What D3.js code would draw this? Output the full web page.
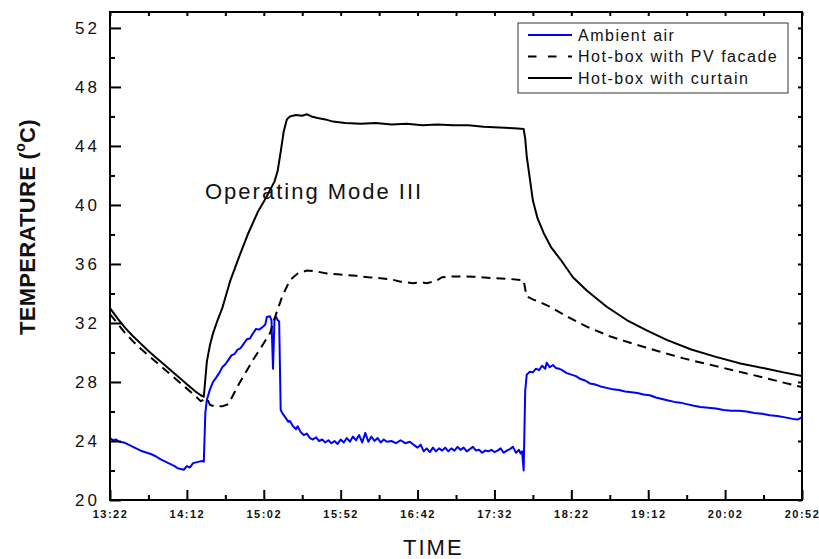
<!DOCTYPE html>
<html>
<head>
<meta charset="utf-8">
<script src="https://d3js.org/d3.v7.min.js"></script>
<style>
  body { margin: 0; background: #fff; }
  text { font-family: Arial, "Liberation Sans", sans-serif; fill: #111; }
</style>
</head>
<body>
<svg id="chart"></svg>
<script>
// ---- data ----
const xTickLabels = ["13:22", "14:12", "15:02", "15:52", "16:42", "17:32", "18:22", "19:12", "20:02", "20:52"];
const yTickValues = [20, 24, 28, 32, 36, 40, 44, 48, 52];
const seriesNames = ["Ambient air", "Hot-box with PV facade", "Hot-box with curtain"];

const ambient = [
  ["13:22",24.2],["13:24",24.05],["13:26",24.1],["13:28",23.95],["13:31",23.9],["13:34",23.75],["13:37",23.6],
  ["13:40",23.45],["13:43",23.3],["13:46",23.2],["13:49",23.1],["13:52",22.95],["13:55",22.75],["13:58",22.6],
  ["14:01",22.45],["14:04",22.3],["14:06",22.15],["14:08",22.1],["14:10",22.05],["14:12",22.3],["14:14",22.2],
  ["14:16",22.5],["14:18",22.55],["14:20",22.6],["14:22",22.65],["14:23",22.6],
  ["14:24",25.9],["14:25",26.8],["14:27",27.5],["14:29",28.0],["14:31",28.3],["14:33",28.6],["14:35",29.0],
  ["14:37",29.2],["14:39",29.5],["14:41",29.8],["14:43",29.9],["14:45",30.2],["14:47",30.3],["14:49",30.6],
  ["14:51",30.9],["14:53",30.95],["14:55",31.3],["14:57",31.6],["14:59",31.55],["15:01",31.7],["15:03",31.9],
  ["15:04",32.4],["15:06",32.45],["15:07",32.2],["15:08",28.9],["15:09",32.3],["15:10",32.4],["15:11",32.2],
  ["15:12",32.1],["15:13",26.1],["15:14",25.9],["15:16",25.6],["15:18",25.3],["15:19",25.35],["15:21",25.0],
  ["15:23",24.8],["15:24",25.0],["15:26",24.6],["15:28",24.4],["15:30",24.5],["15:32",24.2],["15:34",24.1],
  ["15:36",24.25],["15:38",24.0],["15:40",24.1],["15:42",23.9],["15:44",24.05],["15:46",23.85],["15:48",24.0],
  ["15:50",23.8],["15:52",24.1],["15:54",23.9],["15:56",24.2],["15:58",23.95],["16:00",24.3],["16:02",24.05],
  ["16:04",24.4],["16:06",23.9],["16:08",24.55],["16:10",23.95],["16:12",24.3],["16:14",24.0],["16:16",24.2],
  ["16:18",23.9],["16:20",24.1],["16:22",23.95],["16:25",24.0],["16:28",23.85],["16:31",24.05],["16:34",23.85],
  ["16:37",23.95],["16:40",23.7],["16:42",23.55],["16:44",23.75],["16:46",23.3],["16:48",23.5],["16:50",23.25],
  ["16:52",23.55],["16:54",23.3],["16:56",23.5],["16:58",23.35],["17:00",23.55],["17:02",23.3],["17:04",23.5],
  ["17:06",23.35],["17:08",23.6],["17:10",23.4],["17:12",23.55],["17:14",23.3],["17:16",23.45],["17:18",23.6],
  ["17:20",23.35],["17:22",23.4],["17:24",23.2],["17:26",23.35],["17:28",23.3],["17:30",23.4],["17:32",23.25],
  ["17:34",23.35],["17:36",23.5],["17:38",23.2],["17:40",23.35],["17:42",23.45],["17:44",23.6],["17:46",23.2],
  ["17:48",23.4],["17:49",23.15],["17:50",23.3],["17:51",22.0],["17:52",27.4],["17:53",28.5],["17:55",28.7],
  ["17:57",28.65],["17:59",28.9],["18:01",28.8],["18:03",29.1],["18:05",28.9],["18:06",29.3],["18:08",29.0],
  ["18:10",29.15],["18:12",28.95],["18:14",28.9],["18:16",28.8],["18:19",28.6],["18:22",28.5],["18:25",28.4],
  ["18:28",28.2],["18:31",28.1],["18:34",27.9],["18:37",27.85],["18:41",27.7],["18:45",27.6],["18:49",27.5],
  ["18:53",27.45],["18:57",27.35],["19:01",27.3],["19:05",27.25],["19:09",27.15],["19:13",27.1],["19:17",26.95],
  ["19:21",26.85],["19:25",26.75],["19:29",26.65],["19:33",26.6],["19:37",26.5],["19:41",26.4],["19:46",26.3],
  ["19:51",26.25],["19:56",26.2],["20:01",26.1],["20:06",26.05],["20:11",26.05],["20:16",26.0],["20:21",25.9],
  ["20:26",25.85],["20:31",25.75],["20:36",25.7],["20:41",25.6],["20:46",25.5],["20:49",25.45],["20:51",25.55],
  ["20:52",25.65]
];

const pvFacade = [
  ["13:22",32.6],["13:27",31.95],["13:32",31.3],["13:37",30.75],["13:42",30.25],["13:47",29.8],["13:52",29.35],
  ["13:57",28.9],["14:02",28.45],["14:07",28.0],["14:12",27.55],["14:17",27.1],["14:21",26.7],["14:23",26.8],
  ["14:25",26.9],["14:27",26.45],["14:30",26.35],["14:35",26.35],["14:39",26.5],["14:42",27.1],["14:46",27.9],
  ["14:50",28.6],["14:55",29.5],["15:00",30.3],["15:06",31.3],["15:10",32.6],["15:14",33.8],["15:19",34.9],
  ["15:24",35.35],["15:30",35.55],["15:36",35.5],["15:43",35.35],["15:50",35.3],["16:02",35.2],["16:10",35.1],
  ["16:18",35.03],["16:25",34.95],["16:31",34.8],["16:39",34.7],["16:45",34.75],["16:48",34.7],["16:54",34.85],
  ["16:58",35.1],["17:05",35.15],["17:18",35.14],["17:30",35.05],["17:40",35.0],["17:51",34.9],["17:52",34.3],
  ["17:53",33.8],["17:57",33.6],["18:02",33.4],["18:08",33.1],["18:20",32.4],["18:32",31.75],["18:47",31.1],
  ["19:02",30.6],["19:18",30.1],["19:35",29.6],["19:51",29.2],["20:07",28.8],["20:27",28.3],["20:46",27.8],
  ["20:52",27.65]
];

const curtain = [
  ["13:22",33.0],["13:27",32.3],["13:32",31.65],["13:37",31.1],["13:42",30.6],["13:47",30.1],["13:52",29.65],
  ["13:57",29.2],["14:02",28.75],["14:07",28.3],["14:12",27.85],["14:17",27.4],["14:21",27.1],["14:23",27.0],
  ["14:24",28.2],["14:25",29.4],["14:27",30.5],["14:29",31.3],["14:32",32.2],["14:35",33.0],["14:40",34.8],
  ["14:46",36.5],["14:52",38.1],["14:58",39.5],["15:03",40.4],["15:06",41.0],["15:09",41.6],["15:11",42.3],
  ["15:13",43.6],["15:15",45.0],["15:17",45.8],["15:19",46.0],["15:23",46.1],["15:27",46.05],["15:30",46.15],
  ["15:33",46.0],["15:37",45.9],["15:42",45.8],["15:47",45.65],["15:55",45.55],["16:05",45.5],["16:15",45.55],
  ["16:25",45.45],["16:35",45.5],["16:45",45.4],["16:55",45.45],["17:05",45.4],["17:15",45.4],["17:25",45.3],
  ["17:35",45.25],["17:45",45.2],["17:51",45.15],["17:52",44.5],["17:53",43.3],["17:55",41.8],["17:57",40.3],
  ["18:00",39.1],["18:04",38.1],["18:09",37.1],["18:15",36.3],["18:23",35.1],["18:32",34.2],["18:45",33.1],
  ["18:58",32.2],["19:11",31.5],["19:24",30.85],["19:40",30.2],["19:56",29.7],["20:12",29.25],["20:29",28.9],
  ["20:40",28.65],["20:52",28.4]
];

// ---- layout ----
const W = 819, H = 559;
const plotLeft = 110, plotRight = 802, plotTop = 12, plotBottom = 500;
const parse = d3.timeParse("%H:%M");

const svg = d3.select("#chart").attr("width", W).attr("height", H);

const x = d3.scaleTime()
    .domain([parse(xTickLabels[0]), parse(xTickLabels[xTickLabels.length - 1])])
    .range([plotLeft, plotRight]);
const y = d3.scaleLinear().domain([20, 53.08]).range([plotBottom, plotTop]);

const majorX = xTickLabels.map(parse);
const minorX = d3.pairs(majorX).map(([a, b]) => new Date((+a + +b) / 2));
const minorY = yTickValues.slice(0, -1).map(v => v + 2);

// clip for data lines
svg.append("clipPath").attr("id", "plot")
  .append("rect").attr("x", plotLeft).attr("y", plotTop)
    .attr("width", plotRight - plotLeft).attr("height", plotBottom - plotTop);

const line = d3.line().x(d => x(parse(d[0]))).y(d => y(d[1]));

const lines = svg.append("g").attr("clip-path", "url(#plot)").attr("fill", "none");
lines.append("path").datum(ambient).attr("d", line)
    .attr("stroke", "#0000ff").attr("stroke-width", 2).attr("stroke-linejoin", "round");
lines.append("path").datum(pvFacade).attr("d", line)
    .attr("stroke", "#000").attr("stroke-width", 2).attr("stroke-dasharray", "9,6");
lines.append("path").datum(curtain).attr("d", line)
    .attr("stroke", "#000").attr("stroke-width", 2).attr("stroke-linejoin", "round");

// ---- axes ----
function styleTicks(g) {
  g.select(".domain").remove();
  g.selectAll(".tick line").attr("stroke", "#000").attr("stroke-width", 2);
}

svg.append("g").attr("transform", `translate(0,${plotBottom})`)
  .call(d3.axisBottom(x).tickValues(majorX).tickSize(-10).tickPadding(10)
    .tickFormat(d3.timeFormat("%H:%M")))
  .call(styleTicks)
  .selectAll("text")
    .attr("font-size", 11).attr("font-weight", "bold").attr("letter-spacing", 1.5)
    .attr("font-family", "Arial, 'Liberation Sans', sans-serif").attr("fill", "#111");

svg.append("g").attr("transform", `translate(0,${plotBottom})`)
  .call(d3.axisBottom(x).tickValues(minorX).tickSize(-5).tickFormat(""))
  .call(styleTicks);

svg.append("g").attr("transform", `translate(0,${plotTop})`)
  .call(d3.axisTop(x).tickValues(majorX.concat(minorX)).tickSize(-4).tickFormat(""))
  .call(styleTicks);

svg.append("g").attr("transform", `translate(${plotLeft},0)`)
  .call(d3.axisLeft(y).tickValues(yTickValues).tickSize(-11).tickPadding(10))
  .call(styleTicks)
  .selectAll("text")
    .attr("font-size", 17).attr("letter-spacing", 3)
    .attr("font-family", "Arial, 'Liberation Sans', sans-serif").attr("fill", "#111");

svg.append("g").attr("transform", `translate(${plotLeft},0)`)
  .call(d3.axisLeft(y).tickValues(minorY).tickSize(-5).tickFormat(""))
  .call(styleTicks);

svg.append("g").attr("transform", `translate(${plotRight},0)`)
  .call(d3.axisRight(y).tickValues(yTickValues.concat(minorY)).tickSize(-4).tickFormat(""))
  .call(styleTicks);

// frame
svg.append("rect")
    .attr("x", plotLeft).attr("y", plotTop)
    .attr("width", plotRight - plotLeft).attr("height", plotBottom - plotTop)
    .attr("fill", "none").attr("stroke", "#000").attr("stroke-width", 2);

// ---- titles ----
const yTitle = svg.append("text")
    .attr("transform", "translate(35,335) rotate(-90)")
    .attr("font-size", 22).attr("font-weight", "bold").attr("letter-spacing", 0.3);
yTitle.append("tspan").text("TEMPERATURE (");
yTitle.append("tspan").attr("font-size", 14).attr("dy", -10).text("o");
yTitle.append("tspan").attr("dy", 10).text("C)");

svg.append("text")
    .attr("x", 403).attr("y", 555)
    .attr("font-size", 22).attr("letter-spacing", 2)
    .text("TIME");

svg.append("text")
    .attr("x", 205).attr("y", 199)
    .attr("font-size", 22).attr("letter-spacing", 2)
    .text("Operating Mode III");

// ---- legend ----
const legend = svg.append("g");
legend.append("rect")
    .attr("x", 518).attr("y", 23).attr("width", 270).attr("height", 70)
    .attr("fill", "#fff").attr("stroke", "#333").attr("stroke-width", 1);

const legendStyles = [
  { stroke: "#0000ff", dash: null },
  { stroke: "#000", dash: "8.5,11.5" },
  { stroke: "#000", dash: null }
];
seriesNames.forEach((name, i) => {
  const ly = 35 + i * 21.5;
  legend.append("line")
      .attr("x1", 528).attr("x2", 572).attr("y1", ly).attr("y2", ly)
      .attr("stroke", legendStyles[i].stroke).attr("stroke-width", 1.8)
      .attr("stroke-dasharray", legendStyles[i].dash);
  legend.append("text")
      .attr("x", 578).attr("y", ly + 5.5)
      .attr("font-size", 16).attr("letter-spacing", 1.5)
      .text(name);
});
</script>
</body>
</html>
